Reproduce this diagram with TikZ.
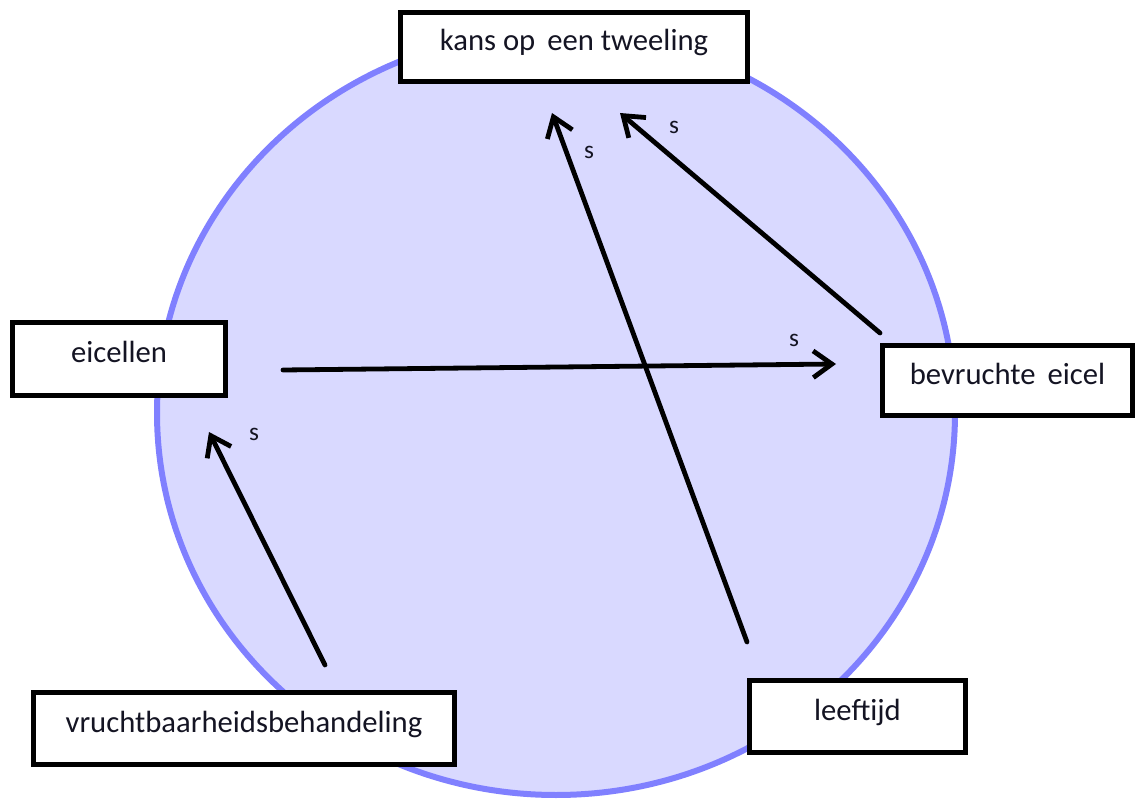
\documentclass[tikz,border=0pt]{standalone}
\usepackage{fontspec}
\setmainfont{Carlito}
\usetikzlibrary{arrows.meta}
\definecolor{circfill}{RGB}{217,217,255}
\definecolor{circline}{RGB}{128,128,255}
\definecolor{txt}{RGB}{20,20,35}
\begin{document}
\begin{tikzpicture}[x=0.75pt,y=-0.75pt,
  box/.style={draw=black,fill=white,line width=3.75pt,inner sep=0pt,
    text height=6pt,text depth=0pt,font=\fontsize{23}{27}\selectfont,text=txt},
  arr/.style={draw=black,line width=3.6pt,line cap=round,
    -{Straight Barb[length=14pt,width=20pt,line width=3.6pt]}},
  lab/.style={inner sep=0pt,font=\fontsize{19}{22}\selectfont,text=txt}]
\useasboundingbox (0,0) rectangle (1136,802);
% circle
\draw[fill=circfill,draw=circline,line width=4.5pt] (556,413) ellipse [x radius=399, y radius=382];
% boxes
\node[box,minimum width=260.25pt,minimum height=51.75pt] (kans) at (574,47) {kans op\ \,een tweeling};
\node[box,minimum width=159.75pt,minimum height=54.75pt] (eic) at (119,359) {eicellen};
\node[box,minimum width=187.5pt,minimum height=52.5pt] (bev) at (1007.5,380.5) {bevruchte\ \,eicel};
\node[box,minimum width=315.75pt,minimum height=54pt] (vru) at (244,728.5) {vruchtbaarheidsbehandeling};
\node[box,minimum width=162pt,minimum height=54pt] (lee) at (857.5,716.5) {leeftijd};
% connector end points
\coordinate (a1s) at (283,370);
\coordinate (a1e) at (836,364);
\coordinate (a2s) at (325,665);
\coordinate (a2e) at (209,432);
\coordinate (a3s) at (747,642);
\coordinate (a3e) at (552,113);
\coordinate (a4s) at (880,333);
\coordinate (a4e) at (620,113);
% arrows
\draw[arr] (a1s) -- (a1e);
\draw[arr] (a2s) -- (a2e);
\draw[arr] (a3s) -- (a3e);
\draw[arr] (a4s) -- (a4e);
% labels
\node[lab] (s1) at (794,340) {s};
\node[lab] (s2) at (254,434) {s};
\node[lab] (s3) at (589,152) {s};
\node[lab] (s4) at (674,127) {s};
\end{tikzpicture}
\end{document}
